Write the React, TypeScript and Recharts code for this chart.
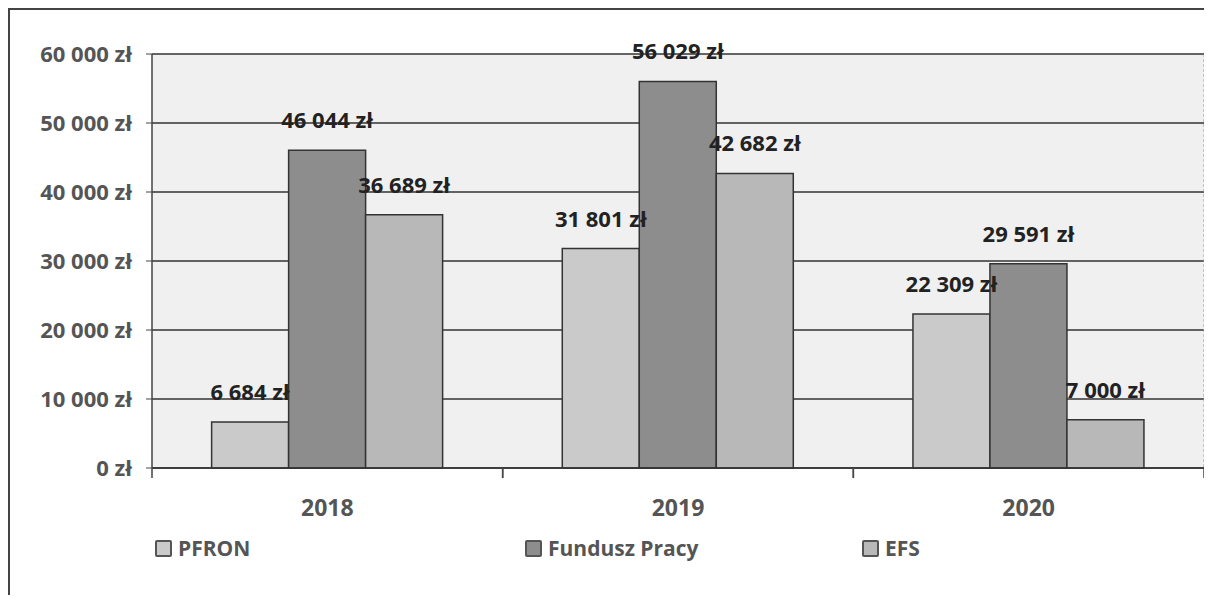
import { BarChart, Bar, XAxis, YAxis, CartesianGrid, LabelList } from 'recharts';

const years = ['2018', '2019', '2020'];
const pfron = [6684, 31801, 22309];
const funduszPracy = [46044, 56029, 29591];
const efs = [36689, 42682, 7000];
const yTicks = [0, 10000, 20000, 30000, 40000, 50000, 60000];

const seriesNames = ['PFRON', 'Fundusz Pracy', 'EFS'];
const seriesKeys = ['pfron', 'fundusz', 'efs'];
const seriesColors = ['#cacaca', '#8d8d8d', '#b8b8b8'];

const data = years.map((year, i) => ({
  year,
  pfron: pfron[i],
  fundusz: funduszPracy[i],
  efs: efs[i],
}));

const FONT = '"Open Sans", "Noto Sans", sans-serif';
const CHART_W = 1200;
const CHART_H = 522;
const MARGIN = { top: 44, right: 5, bottom: 4, left: 0 };
const Y_W = 142;
const BAND = (CHART_W - MARGIN.left - MARGIN.right - Y_W - 1) / years.length;

const zl = (v: number) =>
  `${String(v).replace(/\B(?=(\d{3})+(?!\d))/g, ' ')} zł`;

// x tick: year label plus tick marks on the category boundaries
const YearTick = (props: any) => {
  const { x, y, payload } = props;
  return (
    <g>
      <line x1={x - BAND / 2} x2={x - BAND / 2} y1={y} y2={y + 10} stroke="#444" strokeWidth={1.5} />
      <line x1={x + BAND / 2} x2={x + BAND / 2} y1={y} y2={y + 10} stroke="#444" strokeWidth={1.5} />
      <text x={x} y={y + 48} textAnchor="middle" fill="#555" fontSize={23} fontWeight={700} fontFamily={FONT}>
        {payload.value}
      </text>
    </g>
  );
};

export default function App() {
  return (
    <div
      style={{
        position: 'relative',
        marginTop: 0,
        width: 1200,
        height: 585,
        borderTop: '2px solid #444',
        borderLeft: '2px solid #444',
        background: '#fff',
        fontFamily: FONT,
      }}
    >
      <BarChart
        width={CHART_W}
        height={CHART_H}
        data={data}
        margin={MARGIN}
        barCategoryGap="17%"
        barGap={0}
      >
        <CartesianGrid fill="#f0f0f0" vertical={false} stroke="#333" strokeWidth={1.5} />
        <XAxis
          dataKey="year"
          height={60}
          tickLine={false}
          tickSize={0}
          tickMargin={0}
          axisLine={{ stroke: '#333', strokeWidth: 1.5 }}
          tick={<YearTick />}
          interval={0}
        />
        <YAxis
          width={Y_W}
          domain={[0, 60000]}
          ticks={yTicks}
          tickFormatter={zl}
          tickSize={6}
          tickMargin={14}
          axisLine={{ stroke: '#444', strokeWidth: 1.5 }}
          tickLine={{ stroke: '#444' }}
          tick={{ fill: '#555', fontSize: 22, fontWeight: 700, fontFamily: FONT }}
        />
        <YAxis
          yAxisId="r"
          orientation="right"
          width={1}
          tick={false}
          tickLine={false}
          axisLine={{ stroke: '#999', strokeDasharray: '3 2' }}
        />
        {seriesKeys.map((key, i) => (
          <Bar
            key={key}
            dataKey={key}
            name={seriesNames[i]}
            fill={seriesColors[i]}
            stroke="#333"
            strokeWidth={1.5}
            isAnimationActive={false}
          >
            <LabelList
              dataKey={key}
              position="top"
              offset={22}
              formatter={(v: any) => zl(Number(v))}
              style={{ fill: '#222', fontSize: 22, fontWeight: 700, fontFamily: FONT }}
            />
          </Bar>
        ))}
      </BarChart>
      <div style={{ position: 'absolute', top: 524, left: 0, width: 1190, height: 30 }}>
        {seriesNames.map((name, i) => (
          <div
            key={name}
            style={{
              position: 'absolute',
              left: [145, 515, 852][i],
              top: 0,
              display: 'flex',
              alignItems: 'center',
              gap: 6,
              color: '#555',
              fontSize: 21,
              fontWeight: 700,
            }}
          >
            <span
              style={{
                display: 'inline-block',
                width: 13,
                height: 13,
                background: seriesColors[i],
                border: '2px solid #555',
                borderRadius: 2,
              }}
            />
            {name}
          </div>
        ))}
      </div>
    </div>
  );
}
